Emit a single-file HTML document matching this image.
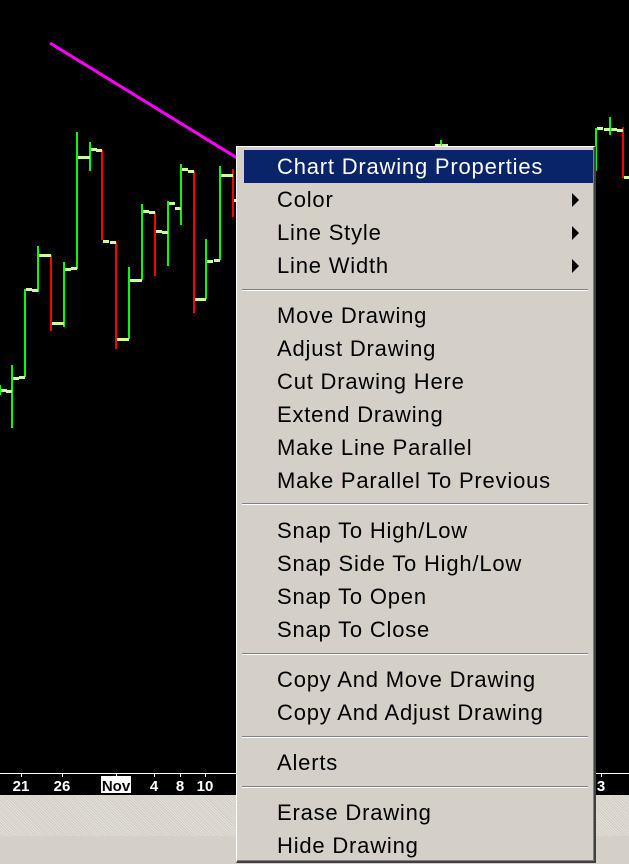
<!DOCTYPE html>
<html><head><meta charset="utf-8"><style>
html,body{margin:0;padding:0;width:629px;height:864px;overflow:hidden;background:#000;font-family:"Liberation Sans",sans-serif}
#chart{position:absolute;left:0;top:0}
#hatch{position:absolute;left:0;top:795px;width:629px;height:41px;background:repeating-linear-gradient(45deg,#e4e1da 0 1px,#d0ccc4 1px 2px)}
#base{position:absolute;left:0;top:836px;width:629px;height:28px;background:#d4d0c8}
#menu{position:absolute;left:236px;top:146px;width:357px;height:714px;background:#d4d0c8;border-left:1px solid #fff;border-top:1px solid #fff;border-right:2px solid #404040;border-bottom:2px solid #404040;box-shadow:inset -1px -1px 0 #808080}
.it{position:absolute;left:7px;width:349px;height:33px;line-height:33px;font-size:22px;letter-spacing:0.8px;color:#000;padding-left:33px;box-sizing:border-box;white-space:nowrap}
.it.sel{background:#0a246a;color:#fff}
.arr{position:absolute;right:14px;top:10px;width:0;height:0;border-top:7px solid transparent;border-bottom:7px solid transparent;border-left:7px solid #000}
.sep{position:absolute;left:5px;width:346px;height:0;border-top:1px solid #808080;border-bottom:1px solid #fff}
</style></head><body>
<svg id="chart" width="629" height="864"></svg>
<div id="hatch"></div>
<div id="base"></div>
<div id="menu">
<div class="it sel" style="top:3px">Chart Drawing Properties</div>
<div class="it" style="top:36px">Color<span class="arr"></span></div>
<div class="it" style="top:69px">Line Style<span class="arr"></span></div>
<div class="it" style="top:102px">Line Width<span class="arr"></span></div>
<div class="sep" style="top:142px"></div>
<div class="it" style="top:152px">Move Drawing</div>
<div class="it" style="top:185px">Adjust Drawing</div>
<div class="it" style="top:218px">Cut Drawing Here</div>
<div class="it" style="top:251px">Extend Drawing</div>
<div class="it" style="top:284px">Make Line Parallel</div>
<div class="it" style="top:317px">Make Parallel To Previous</div>
<div class="sep" style="top:356px"></div>
<div class="it" style="top:367px">Snap To High/Low</div>
<div class="it" style="top:400px">Snap Side To High/Low</div>
<div class="it" style="top:433px">Snap To Open</div>
<div class="it" style="top:466px">Snap To Close</div>
<div class="sep" style="top:506px"></div>
<div class="it" style="top:516px">Copy And Move Drawing</div>
<div class="it" style="top:549px">Copy And Adjust Drawing</div>
<div class="sep" style="top:589px"></div>
<div class="it" style="top:599px">Alerts</div>
<div class="sep" style="top:639px"></div>
<div class="it" style="top:649px">Erase Drawing</div>
<div class="it" style="top:682px">Hide Drawing</div>
</div>
<script>
// bar data (in pixel-price units; y grows downward)
const barX = [0,12,25,38,51,64,77,90,102,116,129,142,155,168,181,194,206,220,233,441,596,610,623];
const highs = [385,365,289,246,255,262,132,142,150,242,267,204,212,201,164,171,239,166,169,140,128,117,127];
const lows  = [395,428,377,292,331,327,269,171,240,349,339,280,276,266,225,313,299,260,217,150,171,135,178];
const opens = [390,391,377,290,255,323,268,157,150,242,339,280,212,232,208,171,299,260,175,145,170,129,130];
const closes= [390,378,289,255,323,269,157,149,241,339,280,211,231,203,169,299,261,175,200,145,128,129,177];
const axisLabels = ["21","26","Nov","4","8","10","3"];
const axisLabelX = [21,62,116,154,180,205,601];
const trendLine = [[50,43],[330,215]];
const svg = document.getElementById('chart');
const NS = 'http://www.w3.org/2000/svg';
function mk(t,a){const e=document.createElementNS(NS,t);for(const k in a)e.setAttribute(k,a[k]);svg.appendChild(e);return e;}
for(let i=0;i<barX.length;i++){
  const x=barX[i], up=closes[i]<=opens[i];
  const col=up?'#00ff00':'#ff0000';
  const l=mk('rect',{x:x-1,y:highs[i],width:2,height:lows[i]-highs[i],fill:col});
  
  
  const o=mk('rect',{x:x-6,y:opens[i]-1,width:6,height:3,fill:'#ccff99'});
  
  
  const c=mk('rect',{x:x+1,y:closes[i]-1,width:6,height:3,fill:'#ccff99'});
  
  
}
const tl=mk('line',{x1:trendLine[0][0],y1:trendLine[0][1],x2:trendLine[1][0],y2:trendLine[1][1],stroke:'#ff00ff','stroke-width':3});


const ax=mk('rect',{x:0,y:773,width:629,height:1,fill:'#fff'});


for(let i=0;i<axisLabels.length;i++){
  const x=axisLabelX[i];
  const tk=mk('rect',{x:x,y:773,width:1,height:4,fill:'#fff'});
  
  
  if(axisLabels[i]==='Nov'){
    const b=mk('rect',{x:x-15,y:776,width:30,height:17,fill:'#fff'});
    
    
  }
  const t=mk('text',{x:x,y:791,'text-anchor':'middle','font-size':15,'font-weight':'bold','font-family':'Liberation Sans, sans-serif',fill:axisLabels[i]==='Nov'?'#000':'#fff'});
  t.textContent=axisLabels[i];
  
  
}
</script>
</body></html>
